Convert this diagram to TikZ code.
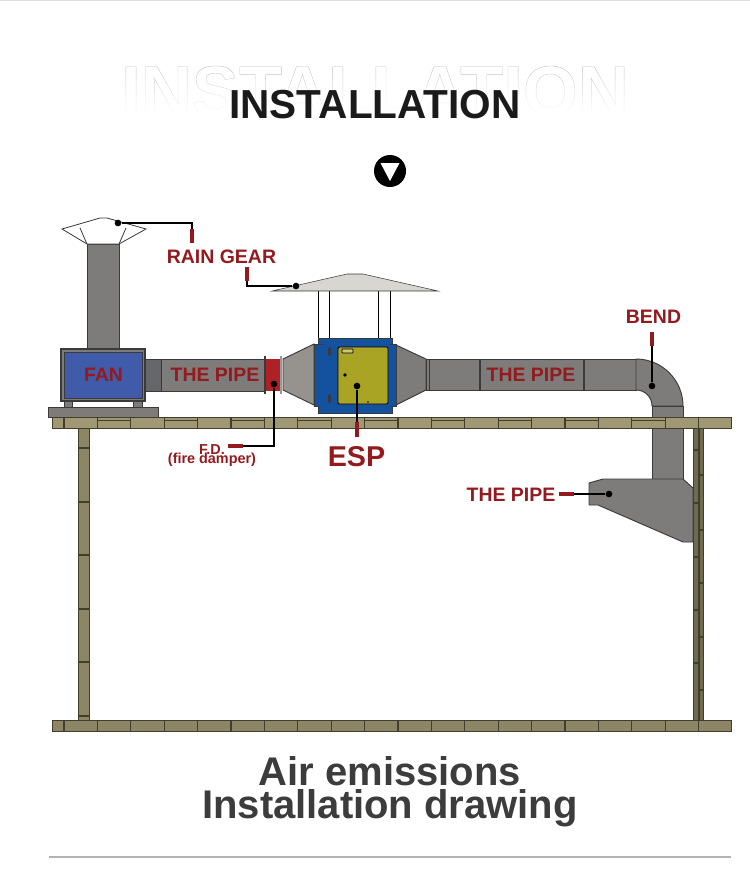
\documentclass[tikz,border=0pt]{standalone}
\usepackage{fontspec}
\setmainfont{Liberation Sans}
\usetikzlibrary{
  fadings,
  positioning
}
\definecolor{ductGray}{HTML}{7E7C7B}
\definecolor{coneGray}{HTML}{96938F}
\definecolor{flexGray}{HTML}{66676A}
\definecolor{ductEdge}{HTML}{3A3A3A}
\definecolor{fanBlue}{HTML}{3F5BA9}
\definecolor{espBlue}{HTML}{14519F}
\definecolor{doorOlive}{HTML}{A9A424}
\definecolor{hoodGray}{HTML}{D8D6D1}
\definecolor{damperRed}{HTML}{B02126}
\definecolor{labelRed}{HTML}{931A1E}
\definecolor{beamTan}{HTML}{8D8666}
\definecolor{beamLight}{HTML}{A09875}
\definecolor{beamDark}{HTML}{6F6B50}
\definecolor{beamJoint}{HTML}{423E2C}
\definecolor{titleInk}{HTML}{1A1A1A}
\definecolor{subInk}{HTML}{3C3C3C}
\tikzset{
  every node/.style={font=\bfseries, text=labelRed, inner sep=0pt},
  duct/.style={fill=ductGray, draw=ductEdge, line width=0.7pt},
  cone/.style={fill=coneGray, draw=ductEdge, line width=0.7pt},
  seam/.style={draw=ductEdge, line width=0.8pt},
  beam/.style={fill=beamTan, draw=beamJoint, line width=0.6pt},
  joint/.style={draw=beamJoint, line width=1pt},
  partlabel/.style={font=\fontsize{14.6}{16}\bfseries\selectfont},
  leader/.style={draw=black, line width=0.85pt},
  redbar/.style={draw=labelRed, line width=3pt},
  dot/.style={fill=black, circle, minimum size=5pt, inner sep=0pt}
}
\begin{document}
\begin{tikzpicture}[x=0.75pt, y=-0.75pt]
  \useasboundingbox (0,0) rectangle (750,890);
  \fill[black!13] (0,0) rectangle (750,1);

  % heading
  \node[font=\fontsize{53}{60}\selectfont\bfseries, text=black!20] (ghost) at (375,91)
    {\special{pdf:code q 1 Tr 0.3 w 0.72 G}INSTALLATION\special{pdf:code Q}};
  \fill[white, path fading=north] (110,62) rectangle (640,114);
  \fill[white] (110,113) rectangle (640,122);
  \node[font=\fontsize{30.4}{34}\bfseries\selectfont, text=titleInk] (title) at (375,105) {INSTALLATION};
  \node[circle, fill=black, minimum size=24pt] (badge) at (390,171) {};
  \fill[white] (380.5,163) -- (399.5,163) -- (390,181) -- cycle;

  % chimney and fan
  \draw[duct] (87,244) rectangle (119,348);
  \draw[fill=white, draw=ductEdge, line width=0.6pt] (62,229) -- (100,218) -- (107,218) -- (146,229) -- (119,244) -- (87,244) -- cycle;
  \draw[draw=ductEdge, line width=0.6pt] (80,228) -- (87,244) (126,228) -- (119,244);
  \draw[fill=ductGray, draw=ductEdge, line width=0.7pt] (64,400) rectangle (72,408) (133,400) rectangle (142,408);
  \draw[fill=ductGray, draw=ductEdge, line width=0.7pt] (48,407) rectangle (158,417);
  \draw[fill=ductGray, draw=ductEdge, line width=1pt] (61,349) rectangle (145,401);
  \draw[fill=fanBlue, draw=ductEdge, line width=0.7pt] (64,352) rectangle (142,398);
  \draw[fill=flexGray, draw=ductEdge, line width=0.7pt] (145,359) rectangle (161,391);

  % pipe and damper
  \draw[duct] (161,359) rectangle (265,391);
  \fill[damperRed] (265,359) rectangle (281,391);
  \draw[seam] (265,356) -- (265,394);
  \draw[draw=black!40, line width=1pt] (281,356) -- (281,394);
  \draw[cone] (283,359) -- (314,344) -- (314,405) -- (283,390) -- cycle;
  \draw[cone, fill=ductGray] (396,345) -- (426,359) -- (426,390) -- (396,405) -- cycle;

  % hood rods
  \foreach \rodx in {318,329,378,390}
    \draw[line width=0.7pt] (\rodx,291) -- (\rodx,338);
  \draw[fill=hoodGray, draw=ductEdge, line width=0.4pt] (272,291) -- (347,274) -- (363,274) -- (438,291) -- cycle;

  % esp body
  \draw[fill=espBlue, draw=ductEdge, line width=0.6pt] (318,338) rectangle (392,413);
  \draw[fill=espBlue, draw=ductEdge, line width=0.6pt] (314,344) rectangle (323,406);
  \draw[fill=espBlue, draw=ductEdge, line width=0.6pt] (389,344) rectangle (396,406);
  \draw[fill=espBlue, draw=none] (319,345) rectangle (391,412);
  \draw[fill=doorOlive, draw=black, line width=0.7pt, rounded corners=1pt] (338,347) rectangle (388,404);
  \draw[fill=doorOlive!60!white, draw=black, line width=0.6pt, rounded corners=0.5pt] (342,349) rectangle (353,353);
  \fill[ductEdge, rounded corners=1pt] (328,347) rectangle (331,356) (328,394) rectangle (331,403);
  \fill[black] (345,375) circle (1.9) (368,402) circle (0.9);

  % right pipe and bend
  \draw[duct] (426,359) rectangle (429,390);
  \draw[duct] (429,359) rectangle (636,390);
  \draw[seam] (480,359) -- (480,390) (584,359) -- (584,390);
  \draw[duct] (636,359) .. controls (662,359) and (683,380) .. (683,406) -- (652,406) .. controls (652,397) and (645,390) .. (636,390) -- cycle;
  \draw[duct] (652,406) rectangle (683,420);
  \draw[duct] (652,425) rectangle (683,479);
  \draw[duct] (589,483) -- (603,479) -- (683,479) -- (693,488) -- (693,542) -- (683,542) -- (598,505) -- (589,505) -- cycle;

  % beams and posts
  \draw[beam] (78,428) rectangle (89,720);
  \draw[beam, fill=beamDark] (693,428) rectangle (703,720);
  \draw[seam, draw=beamJoint] (699,428) -- (699,720);
  \foreach \jy in {448,502,555,609,662,716}
    \draw[joint] (78,\jy) -- (89,\jy);
  \foreach \jy in {475,530,583,637,690}
    \draw[joint] (699,\jy) -- (703,\jy);
  \foreach \jy in {450,503,557,610,663}
    \draw[joint] (693,\jy) -- (699,\jy);
  \draw[beam, fill=beamLight] (52,417) rectangle (731,428);
  \draw[beam] (52,720) rectangle (731,731);
  \foreach \jx in {64,97.4,130.8,164.2,197.6,231,264.4,297.8,331.2,364.6,398,431.4,464.8,498.2,531.6,565,598.4,631.8,665.2,698.6} {
    \draw[joint] (\jx,417) -- (\jx,428);
    \draw[joint] (\jx,720) -- (\jx,731);
  }
  \foreach \bx in {97.4,164.2,231,297.8,364.6,431.4,498.2,565,631.8}
    \draw[draw=beamJoint, line width=0.6pt] (\bx,420.5) -- ++(33.4,0);

  % part labels
  \node[partlabel] (gearleft) at (221.5,257) {RAIN GEAR};
  \node[partlabel] (fan) at (103.5,375) {FAN};
  \node[partlabel] (pipeleft) at (215,375) {THE PIPE};
  \node[partlabel] (piperight) at (531,375) {THE PIPE};
  \node[partlabel] (pipelow) at (511,495) {THE PIPE};
  \node[partlabel] (bend) at (653.5,317) {BEND};
  \node[font=\fontsize{10.8}{12}\bfseries\selectfont] (damper) at (212,450) {F.D.};
  \node[font=\fontsize{10.8}{12}\bfseries\selectfont] (damperfull) at (212,460) {(fire damper)};
  \node[font=\fontsize{21.5}{24}\bfseries\selectfont] (esp) at (356.5,457) {ESP};

  % leaders
  \node[dot] (capdot) at (118,223) {};
  \node[dot] (hooddot) at (296,286) {};
  \node[dot] (damperdot) at (274,384) {};
  \node[dot] (espdot) at (357,386) {};
  \node[dot] (benddot) at (652,386) {};
  \node[dot] (hopperdot) at (609,494) {};
  \coordinate (capbar) at (192,229);
  \coordinate (capbarend) at (192,243);
  \coordinate (hoodbar) at (247,281);
  \coordinate (hoodbarend) at (247,267);
  \coordinate (damperbar) at (243,446);
  \coordinate (damperbarend) at (228,446);
  \coordinate (espbar) at (357,422);
  \coordinate (espbarend) at (357,437);
  \coordinate (bendbar) at (652,346);
  \coordinate (bendbarend) at (652,332);
  \coordinate (hopperbar) at (574,494);
  \coordinate (hopperbarend) at (559,494);

  \draw[leader] (capdot) -| (capbar);
  \draw[leader] (hooddot) -| (hoodbar);
  \draw[leader] (damperdot) |- (damperbar);
  \draw[leader] (espdot) -- (espbar);
  \draw[leader] (benddot) -- (bendbar);
  \draw[leader] (hopperdot) -- (hopperbar);
  \draw[redbar] (capbar) -- (capbarend);
  \draw[redbar] (hoodbar) -- (hoodbarend);
  \draw[redbar] (damperbar) -- (damperbarend);
  \draw[redbar] (espbar) -- (espbarend);
  \draw[redbar] (bendbar) -- (bendbarend);
  \draw[redbar] (hopperbar) -- (hopperbarend);

  % caption
  \node[font=\fontsize{30}{34}\bfseries\selectfont, text=subInk] (captionone) at (390,771) {Air emissions};
  \node[font=\fontsize{30}{34}\bfseries\selectfont, text=subInk] (captiontwo) at (390,808) {Installation drawing};
  \draw[draw=black!30, line width=0.8pt] (49,857) -- (731,857);
\end{tikzpicture}
\end{document}
